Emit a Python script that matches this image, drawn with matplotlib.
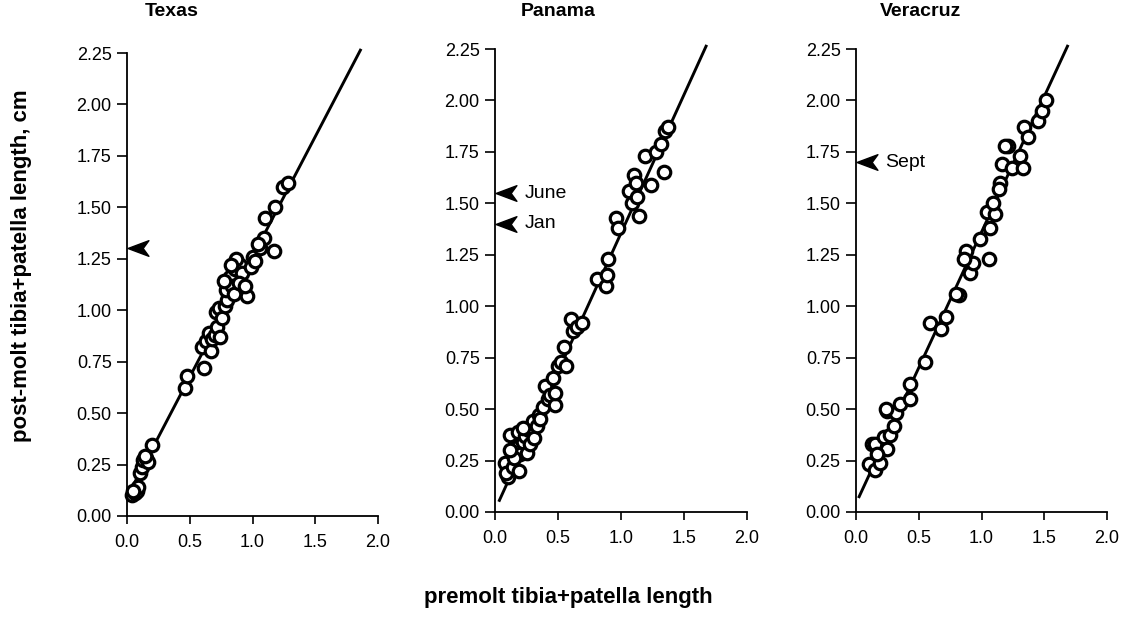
import matplotlib
matplotlib.use("Agg")
import matplotlib.pyplot as plt
from matplotlib.path import Path
import numpy as np

plt.rcParams['font.family'] = ['Liberation Sans', 'DejaVu Sans']

# ---------------- data ----------------
panel_titles = ["Texas", "Panama", "Veracruz"]

texas_x = [0.04, 0.06, 0.08, 0.09, 0.05, 0.10, 0.12, 0.13, 0.15, 0.17, 0.14, 0.20,
           0.46, 0.48, 0.61, 0.60, 0.63, 0.65, 0.67, 0.68, 0.70, 0.72, 0.74, 0.71,
           0.73, 0.76, 0.78, 0.80, 0.79, 0.82, 0.84, 0.85, 0.86, 0.88, 0.90, 0.92,
           0.89, 0.96, 0.94, 0.99, 1.00, 1.02, 1.06, 1.09, 1.04, 1.17, 1.10, 1.18,
           1.24, 1.28, 0.87, 0.83, 0.77]
texas_y = [0.10, 0.11, 0.12, 0.14, 0.12, 0.21, 0.24, 0.27, 0.28, 0.26, 0.29, 0.345,
           0.62, 0.68, 0.72, 0.82, 0.85, 0.89, 0.80, 0.86, 0.88, 0.92, 0.87, 0.99,
           1.01, 0.96, 1.02, 1.05, 1.10, 1.16, 1.12, 1.08, 1.20, 1.23, 1.22, 1.18,
           1.13, 1.07, 1.12, 1.21, 1.26, 1.24, 1.30, 1.35, 1.32, 1.29, 1.45, 1.50,
           1.60, 1.62, 1.25, 1.22, 1.14]

panama_x = [0.08, 0.10, 0.09, 0.12, 0.14, 0.16, 0.18, 0.19, 0.20, 0.22, 0.24, 0.25,
            0.27, 0.28, 0.30, 0.31, 0.33, 0.35, 0.36, 0.38, 0.40, 0.42, 0.44, 0.46,
            0.48, 0.48, 0.50, 0.52, 0.55, 0.56, 0.60, 0.62, 0.65, 0.69, 0.81, 0.88,
            0.89, 0.90, 0.96, 0.98, 1.06, 1.09, 1.10, 1.12, 1.13, 1.14, 1.19, 1.24,
            1.28, 1.32, 1.34, 1.35, 1.37, 0.15, 0.22, 0.12]
panama_y = [0.24, 0.17, 0.19, 0.375, 0.22, 0.31, 0.39, 0.20, 0.28, 0.34, 0.37, 0.285,
            0.40, 0.33, 0.44, 0.36, 0.42, 0.47, 0.45, 0.51, 0.61, 0.55, 0.57, 0.65,
            0.52, 0.58, 0.71, 0.73, 0.80, 0.71, 0.94, 0.88, 0.90, 0.92, 1.13, 1.10,
            1.15, 1.23, 1.43, 1.38, 1.56, 1.50, 1.64, 1.60, 1.53, 1.44, 1.73, 1.59,
            1.75, 1.79, 1.65, 1.85, 1.87, 0.26, 0.41, 0.30]

veracruz_x = [0.10, 0.13, 0.15, 0.15, 0.19, 0.22, 0.25, 0.25, 0.27, 0.30, 0.32, 0.35,
              0.24, 0.43, 0.43, 0.55, 0.59, 0.68, 0.72, 0.82, 0.80, 0.88, 0.91, 0.93,
              1.06, 0.99, 1.07, 1.04, 1.11, 1.09, 1.15, 1.16, 1.21, 1.19, 1.24, 1.31,
              1.33, 1.34, 1.37, 1.45, 1.48, 1.51, 0.17, 0.86, 1.14]
veracruz_y = [0.235, 0.33, 0.205, 0.33, 0.24, 0.365, 0.305, 0.49, 0.375, 0.42, 0.48, 0.525,
              0.50, 0.55, 0.62, 0.73, 0.92, 0.89, 0.95, 1.055, 1.06, 1.27, 1.16, 1.21,
              1.23, 1.325, 1.38, 1.46, 1.45, 1.50, 1.60, 1.69, 1.78, 1.78, 1.67, 1.73,
              1.67, 1.87, 1.82, 1.90, 1.95, 2.00, 0.28, 1.23, 1.57]

# regression line end points (x, y)
texas_line_x = [0.05, 1.865]
texas_line_y = [0.15, 2.27]
panama_line_x = [0.03, 1.68]
panama_line_y = [0.05, 2.27]
veracruz_line_x = [0.02, 1.69]
veracruz_line_y = [0.068, 2.27]

# arrow markers (y value) and labels
texas_arrows_y = [1.30]
texas_arrows_lab = [""]
panama_arrows_y = [1.55, 1.40]
panama_arrows_lab = ["June", "Jan"]
veracruz_arrows_y = [1.70]
veracruz_arrows_lab = ["Sept"]

x_ticks = [0.0, 0.5, 1.0, 1.5, 2.0]
x_ticklabels = ["0.0", "0.5", "1.0", "1.5", "2.0"]
y_ticks = [0.0, 0.25, 0.5, 0.75, 1.0, 1.25, 1.5, 1.75, 2.0, 2.25]
y_ticklabels = ["0.00", "0.25", "0.50", "0.75", "1.00", "1.25", "1.50", "1.75", "2.00", "2.25"]

ylabel = "post-molt tibia+patella length, cm"
xlabel = "premolt tibia+patella length"

# ---------------- figure ----------------
W, H = 1137, 632
fig = plt.figure(figsize=(W / 100, H / 100), dpi=100)

# axes boxes in pixels: left, top(y from top), right, bottom
boxes = [(127, 53, 378, 516), (495, 49, 747, 512), (856, 49, 1107, 512)]
title_px = [145, 521, 880]

arrow_path = Path([(-1.0, 0.0), (1.0, 0.75), (0.45, 0.0), (1.0, -0.75), (-1.0, 0.0)],
                  [Path.MOVETO, Path.LINETO, Path.LINETO, Path.LINETO, Path.CLOSEPOLY])

series = [
    (texas_x, texas_y, texas_line_x, texas_line_y, texas_arrows_y, texas_arrows_lab),
    (panama_x, panama_y, panama_line_x, panama_line_y, panama_arrows_y, panama_arrows_lab),
    (veracruz_x, veracruz_y, veracruz_line_x, veracruz_line_y, veracruz_arrows_y, veracruz_arrows_lab),
]

for i, (box, (sx, sy, lx, ly, ay, alab)) in enumerate(zip(boxes, series)):
    l, t, r, b = box
    ax = fig.add_axes([l / W, 1 - b / H, (r - l) / W, (b - t) / H])
    ax.plot(lx, ly, color='black', lw=2.1, clip_on=False, zorder=2, solid_capstyle='butt')
    ax.plot(sx, sy, linestyle='none', marker='o', markersize=9.0, markerfacecolor='white',
            markeredgecolor='black', markeredgewidth=2.3, clip_on=False, zorder=3)
    for yv, lab in zip(ay, alab):
        ax.plot([0.085], [yv], linestyle='none', marker=arrow_path, markersize=15,
                color='black', clip_on=False, zorder=4)
        if lab:
            ax.text(0.235, yv, lab, fontsize=14, va='center', ha='left')
    ax.set_xlim(0, 2.0)
    ax.set_ylim(0, 2.25)
    ax.set_xticks(x_ticks)
    ax.set_xticklabels(x_ticklabels)
    ax.set_yticks(y_ticks)
    ax.set_yticklabels(y_ticklabels)
    ax.tick_params(axis='both', labelsize=13, width=1.2, color='black', direction='out')
    ax.tick_params(axis='y', length=7, pad=4)
    ax.tick_params(axis='x', length=6, pad=7)
    for s in ['top', 'right']:
        ax.spines[s].set_visible(False)
    for s in ['left', 'bottom']:
        ax.spines[s].set_linewidth(1.3)
    ax.patch.set_alpha(0)
    fig.text(title_px[i] / W, 1 - 11 / H, panel_titles[i], fontsize=14, fontweight='bold',
             ha='left', va='center')

fig.text(22 / W, 1 - 266 / H, ylabel, rotation=90, fontsize=16, fontweight='bold',
         ha='center', va='center')
fig.text(568 / W, 1 - 598 / H, xlabel, fontsize=16, fontweight='bold',
         ha='center', va='center')

fig.savefig("out.png", dpi=100, facecolor='white')
